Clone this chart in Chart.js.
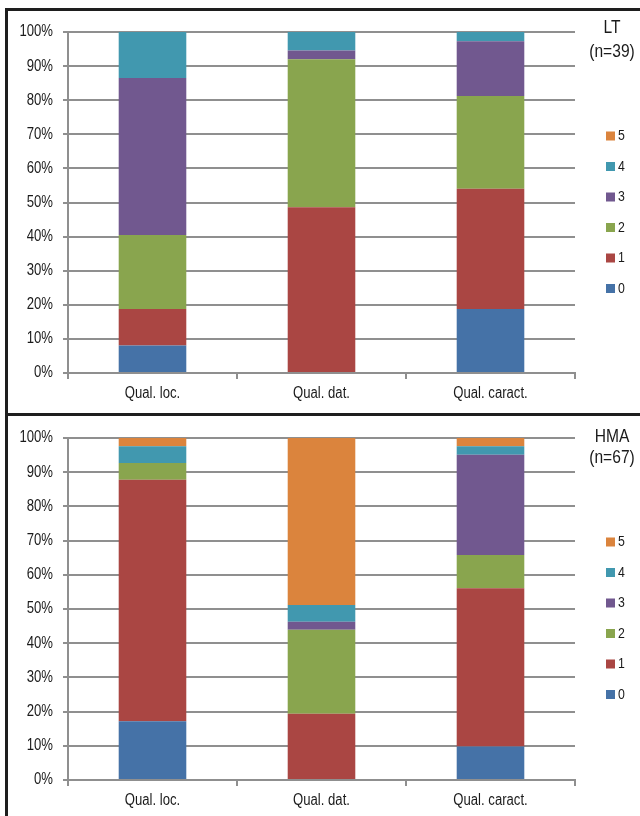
<!DOCTYPE html>
<html lang="en">
  <head>
    <meta charset="UTF-8" />
    <title>LT / HMA quality scores</title>
    <style>
      body { margin: 0; background: #fff; width: 640px; height: 816px; overflow: hidden; position: relative; }
      canvas { position: absolute; left: 0; }
      #chartLT { top: 0; }
      #chartHMA { top: 416px; }
      .line { position: absolute; background: #1e1e1e; z-index: 2; }
    </style>
  </head>
  <body>
    <canvas id="chartLT" width="640" height="414"></canvas>
    <canvas id="chartHMA" width="640" height="400"></canvas>
    <div class="line" style="left:5px; top:8px; width:635px; height:3px"></div>
    <div class="line" style="left:5px; top:413px; width:635px; height:3px"></div>
    <div class="line" style="left:5px; top:8px; width:3px; height:808px"></div>
    <script src="https://cdn.jsdelivr.net/npm/chart.js"></script>
    <script>
      const categories = ["Qual. loc.", "Qual. dat.", "Qual. caract."];
      const scoreLabels = ["0", "1", "2", "3", "4", "5"];
      const colors = ["#4572A7", "#AA4643", "#89A54E", "#71588F", "#4198AF", "#DB843D"];
      const yTicks = [0, 10, 20, 30, 40, 50, 60, 70, 80, 90, 100];

      // LT (n=39), % per score
      const lt0 = [8.1, 0, 18.8];
      const lt1 = [10.7, 48.6, 35.2];
      const lt2 = [21.7, 43.4, 27.2];
      const lt3 = [46.0, 2.6, 16.1];
      const lt4 = [13.5, 5.4, 2.7];
      const lt5 = [0, 0, 0];

      // HMA (n=67), % per score
      const hma0 = [17.2, 0, 9.8];
      const hma1 = [70.6, 19.4, 46.3];
      const hma2 = [4.9, 24.5, 9.7];
      const hma3 = [0, 2.4, 29.3];
      const hma4 = [4.9, 4.9, 2.5];
      const hma5 = [2.4, 48.8, 2.4];

      const FONT = "'Liberation Sans', Arial, sans-serif";
      const GRID = "#8f8f8f";
      const TEXT = "#1a1a1a";
      const NARROW = 0.82; // no narrow font installed, squeeze text instead

      function narrowText(ctx) {
        const fill = ctx.fillText;
        ctx.fillText = function (t, x, y, w) {
          this.save();
          this.translate(x, y);
          this.scale(NARROW, 1);
          fill.call(this, t, 0, 0, w);
          this.restore();
        };
      }

      // legend + panel title drawn at the right of the plot
      const sideLegend = {
        id: "sideLegend",
        afterDraw(chart, args, opts) {
          const c = chart.ctx;
          const top = chart.chartArea.top;
          c.save();
          c.fillStyle = TEXT;
          c.textAlign = "center";
          c.textBaseline = "middle";
          c.font = "19px " + FONT;
          c.fillText(opts.name, 612, top + opts.nameDy);
          c.fillText("(n=" + opts.n + ")", 612, top + 20);
          c.textAlign = "left";
          c.font = "15px " + FONT;
          const ds = chart.data.datasets;
          for (let i = ds.length - 1; i >= 0; i--) {
            const y = top + 104 + (ds.length - 1 - i) * 30.5;
            c.fillStyle = ds[i].backgroundColor;
            c.fillRect(606, y - 4.5, 9, 9);
            c.fillStyle = TEXT;
            c.fillText(ds[i].label, 618, y);
          }
          c.restore();
        },
      };

      function makeChart(id, series, name, n, nameDy, padTop, xHeight) {
        const ctx = document.getElementById(id).getContext("2d");
        narrowText(ctx);
        return new Chart(ctx, {
          type: "bar",
          data: {
            labels: categories,
            datasets: series.map((d, i) => ({
              label: scoreLabels[i],
              data: d,
              backgroundColor: colors[i],
              borderWidth: 0,
              barPercentage: 0.4,
              categoryPercentage: 1,
            })),
          },
          plugins: [sideLegend],
          options: {
            responsive: false,
            animation: false,
            devicePixelRatio: 1,
            layout: { padding: { top: padTop, right: 65, left: 0, bottom: 0 } },
            plugins: {
              legend: { display: false },
              tooltip: { enabled: false },
              sideLegend: { name: name, n: n, nameDy: nameDy },
            },
            scales: {
              x: {
                stacked: true,
                grid: { offset: true, drawOnChartArea: false, color: GRID, lineWidth: 2, tickLength: 6 },
                border: { color: GRID, width: 2 },
                ticks: { color: TEXT, font: { family: FONT, size: 16 }, padding: 5 },
                afterFit(s) { s.height = xHeight; },
              },
              y: {
                stacked: true,
                min: 0,
                max: 100,
                afterBuildTicks(s) { s.ticks = yTicks.map((v) => ({ value: v })); },
                ticks: { color: TEXT, font: { family: FONT, size: 16 }, padding: 10, callback: (v) => v + "%" },
                grid: { color: GRID, lineWidth: 2, tickLength: 5 },
                border: { color: GRID, width: 2 },
                afterFit(s) { s.width = 68; },
              },
            },
          },
        });
      }

      makeChart("chartLT", [lt0, lt1, lt2, lt3, lt4, lt5], "LT", 39, -4, 32, 41);
      makeChart("chartHMA", [hma0, hma1, hma2, hma3, hma4, hma5], "HMA", 67, -1, 22, 36);
    </script>
  </body>
</html>
